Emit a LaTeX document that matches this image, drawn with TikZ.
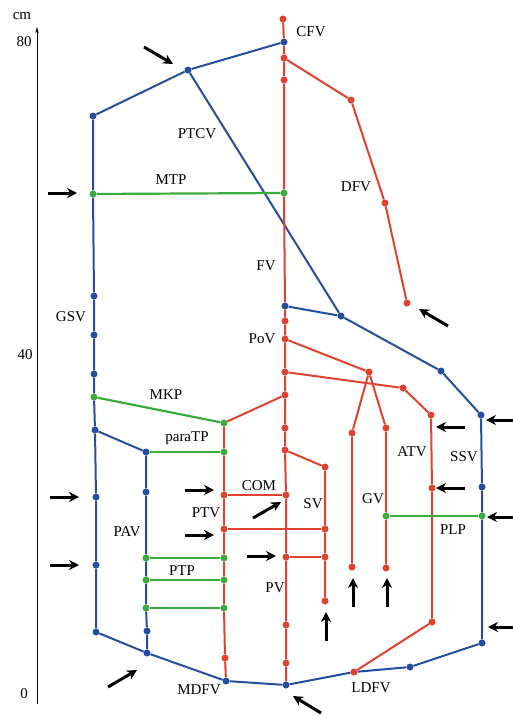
\documentclass[tikz,border=0pt]{standalone}
\usepackage{fontspec}
\setmainfont{Liberation Serif}
\usetikzlibrary{arrows.meta}
\definecolor{vblue}{RGB}{38,78,160}
\definecolor{vred}{RGB}{224,66,48}
\definecolor{vgreen}{RGB}{58,172,62}
\begin{document}
\begin{tikzpicture}[x=1pt,y=-1pt,
	bcirc/.style={circle,fill=vblue,inner sep=0pt,minimum size=7pt},
	rcirc/.style={circle,fill=vred,inner sep=0pt,minimum size=7pt},
	gcirc/.style={circle,fill=vgreen,inner sep=0pt,minimum size=7pt},
	bline/.style={draw=vblue,line width=2pt},
	rline/.style={draw=vred,line width=2pt},
	gline/.style={draw=vgreen,line width=2.2pt},
	lab/.style={inner sep=0pt,font=\fontsize{15}{17}\selectfont},
	arr/.style={-{Stealth[length=10pt,width=10pt]},line width=3pt}
	]
	\useasboundingbox (0,0) rectangle (513,718);
	% axis
	\coordinate (ax0) at (37,704);
	\coordinate (ax1) at (37,27);
	\draw[line width=0.8pt,-{Stealth[length=6pt,width=3.5pt]}] (ax0) -- (ax1);
	\node[lab] (cm) at (22,16) {cm};
	\node[lab] (t80) at (24,42) {80};
	\node[lab] (t40) at (25,355) {40};
	\node[lab] (t0) at (24,694) {0};
	%%%%%%%%%%%%%%% GSV
	\node[bcirc] (gsv0) at (93,116) {};
	\node[gcirc] (mtpL) at (93,194) {};
	\node[bcirc] (gsv2) at (94,296) {};
	\node[bcirc] (gsv3) at (94,335) {};
	\node[bcirc] (gsv4) at (94,374) {};
	\node[gcirc] (mkpL) at (94,397) {};
	\node[bcirc] (gsv5) at (95,430) {};
	\node[bcirc] (gsv6) at (96,497) {};
	\node[bcirc] (gsv7) at (96,565) {};
	\node[bcirc] (gsv8) at (96,632) {};
	\node[bcirc] (ptc) at (188,70) {};
	\node[bcirc] (cfv) at (284,42) {};
	%%%%%%%%%%%%%%% PAV
	\node[bcirc] (pav0) at (146,452) {};
	\node[bcirc] (pav1) at (146,492) {};
	\node[gcirc] (ptp1L) at (146,558) {};
	\node[gcirc] (ptp2L) at (146,580) {};
	\node[gcirc] (ptp3L) at (146,608) {};
	\node[bcirc] (pav2) at (147,631) {};
	\node[bcirc] (pav3) at (147,653) {};
	%%%%%%%%%%%%%%% FV
	\node[rcirc] (fv0) at (283,19) {};
	\node[rcirc] (fv1) at (284,58) {};
	\node[rcirc] (fv2) at (284,80) {};
	\node[gcirc] (mtpR) at (284,193) {};
	\node[bcirc] (fvb) at (285,306) {};
	\node[rcirc] (fv3) at (285,321) {};
	\node[rcirc] (pov) at (285,339) {};
	\node[rcirc] (fv4) at (285,372) {};
	\node[rcirc] (fv5) at (285,395) {};
	\node[rcirc] (fv6) at (285,428) {};
	\node[rcirc] (fv7) at (285,450) {};
	\node[rcirc] (comR) at (286,495) {};
	\node[rcirc] (fv8) at (286,557) {};
	\node[rcirc] (fv9) at (286,625) {};
	\node[rcirc] (fv10) at (286,663) {};
	\node[bcirc] (fvB) at (286,685) {};
	%%%%%%%%%%%%%%% DFV
	\node[rcirc] (dfv1) at (351,100) {};
	\node[rcirc] (dfv2) at (385,203) {};
	\node[rcirc] (dfv3) at (407,303) {};
	%%%%%%%%%%%%%%% PTV
	\node[gcirc] (mkpR) at (224,423) {};
	\node[gcirc] (ptR) at (224,452) {};
	\node[rcirc] (comL) at (224,495) {};
	\node[rcirc] (ptv1) at (224,529) {};
	\node[gcirc] (ptp1R) at (224,558) {};
	\node[gcirc] (ptp2R) at (224,580) {};
	\node[gcirc] (ptp3R) at (224,608) {};
	\node[rcirc] (ptv2) at (225,658) {};
	\node[bcirc] (mdfv) at (226,681) {};
	%%%%%%%%%%%%%%% SV
	\node[rcirc] (sv0) at (325,467) {};
	\node[rcirc] (sv1) at (325,529) {};
	\node[rcirc] (sv2) at (325,557) {};
	\node[rcirc] (sv3) at (325,601) {};
	%%%%%%%%%%%%%%% GV, ATV
	\node[rcirc] (gv0) at (369,372) {};
	\node[rcirc] (gvl0) at (352,433) {};
	\node[rcirc] (gvl1) at (352,567) {};
	\node[rcirc] (gvr0) at (386,428) {};
	\node[gcirc] (plpL) at (386,516) {};
	\node[rcirc] (gvr1) at (386,568) {};
	\node[rcirc] (atv0) at (403,388) {};
	\node[rcirc] (atv1) at (431,415) {};
	\node[rcirc] (atv2) at (432,488) {};
	\node[rcirc] (atv3) at (432,622) {};
	\node[rcirc] (ldfv) at (354,672) {};
	%%%%%%%%%%%%%%% SSV
	\node[bcirc] (ptcB) at (341,316) {};
	\node[bcirc] (ssv4) at (441,371) {};
	\node[bcirc] (ssv3) at (481,415) {};
	\node[bcirc] (ssv2) at (482,487) {};
	\node[gcirc] (plpR) at (482,516) {};
	\node[bcirc] (ssv0) at (482,643) {};
	\node[bcirc] (dv1) at (410,667) {};
	%%%%%%%%%%%%%%% blue veins
	\draw[bline] (gsv8)--(gsv7)--(gsv6)--(gsv5)--(mkpL)--(gsv4)--(gsv3)--(gsv2)--(mtpL)--(gsv0)--(ptc)--(cfv);
	\draw[bline] (ptc)--(ptcB);
	\draw[bline] (fvb)--(ptcB)--(ssv4)--(ssv3)--(ssv2)--(plpR)--(ssv0)--(dv1)--(ldfv)--(fvB)--(mdfv)--(pav3)--(gsv8);
	\draw[bline] (gsv5)--(pav0)--(pav1)--(ptp1L)--(ptp2L)--(ptp3L)--(pav2)--(pav3);
	%%%%%%%%%%%%%%% red veins
	\draw[rline] (fv0)--(cfv)--(fv1)--(fv2)--(mtpR)--(fvb)--(fv3)--(pov)--(fv4)--(fv5)--(fv6)--(fv7)--(comR)--(fv8)--(fv9)--(fv10)--(fvB);
	\draw[rline] (fv1)--(dfv1)--(dfv2)--(dfv3);
	\draw[rline] (fv5)--(mkpR)--(ptR)--(comL)--(ptv1)--(ptp1R)--(ptp2R)--(ptp3R)--(ptv2)--(mdfv);
	\draw[rline] (comL)--(comR);
	\draw[rline] (ptv1)--(sv1);
	\draw[rline] (fv8)--(sv2);
	\draw[rline] (fv7)--(sv0)--(sv1)--(sv2)--(sv3);
	\draw[rline] (pov)--(gv0);
	\draw[rline] (gv0)--(gvl0)--(gvl1);
	\draw[rline] (gv0)--(gvr0)--(plpL)--(gvr1);
	\draw[rline] (fv4)--(atv0)--(atv1)--(atv2)--(atv3)--(ldfv);
	%%%%%%%%%%%%%%% perforators
	\draw[gline] (mtpL)--(mtpR);
	\draw[gline] (mkpL)--(mkpR);
	\draw[gline] (pav0)--(ptR);
	\draw[gline] (ptp1L)--(ptp1R);
	\draw[gline] (ptp2L)--(ptp2R);
	\draw[gline] (ptp3L)--(ptp3R);
	\draw[gline] (plpL)--(plpR);
	%%%%%%%%%%%%%%% labels
	\node[lab] (tCFV) at (311,32) {CFV};
	\node[lab] (tPTCV) at (197,134) {PTCV};
	\node[lab] (tMTP) at (171,180) {MTP};
	\node[lab] (tDFV) at (356,187) {DFV};
	\node[lab] (tFV) at (266,266) {FV};
	\node[lab] (tGSV) at (71,317) {GSV};
	\node[lab] (tPoV) at (262,339) {PoV};
	\node[lab] (tMKP) at (166,395) {MKP};
	\node[lab] (tparaTP) at (187,438) {paraTP};
	\node[lab] (tATV) at (412,452) {ATV};
	\node[lab] (tSSV) at (464,457) {SSV};
	\node[lab] (tCOM) at (259,486) {COM};
	\node[lab] (tPTV) at (206,513) {PTV};
	\node[lab] (tSV) at (313,504) {SV};
	\node[lab] (tGV) at (373,499) {GV};
	\node[lab] (tPLP) at (453,530) {PLP};
	\node[lab] (tPAV) at (127,532) {PAV};
	\node[lab] (tPTP) at (182,571) {PTP};
	\node[lab] (tPV) at (275,588) {PV};
	\node[lab] (tMDFV) at (199,690) {MDFV};
	\node[lab] (tLDFV) at (371,688) {LDFV};
	%%%%%%%%%%%%%%% arrows
	\coordinate (a1t) at (144,47); \coordinate (a1h) at (173,64);
	\coordinate (a2t) at (48,193); \coordinate (a2h) at (77,193);
	\coordinate (a3t) at (50,497); \coordinate (a3h) at (79,497);
	\coordinate (a4t) at (50,565); \coordinate (a4h) at (79,565);
	\coordinate (a5t) at (108,687); \coordinate (a5h) at (137,670);
	\coordinate (a6t) at (185,490); \coordinate (a6h) at (214,490);
	\coordinate (a7t) at (185,535); \coordinate (a7h) at (214,535);
	\coordinate (a8t) at (253,518); \coordinate (a8h) at (281,502);
	\coordinate (a9t) at (247,556); \coordinate (a9h) at (276,556);
	\coordinate (a10t) at (326,641); \coordinate (a10h) at (326,612);
	\coordinate (a11t) at (353,607); \coordinate (a11h) at (353,578);
	\coordinate (a12t) at (387,607); \coordinate (a12h) at (387,578);
	\coordinate (a13t) at (321,713); \coordinate (a13h) at (293,696);
	\coordinate (a14t) at (465,427); \coordinate (a14h) at (436,427);
	\coordinate (a15t) at (465,488); \coordinate (a15h) at (436,488);
	\coordinate (a16t) at (516,420); \coordinate (a16h) at (486,420);
	\coordinate (a17t) at (516,517); \coordinate (a17h) at (487,517);
	\coordinate (a18t) at (516,627); \coordinate (a18h) at (488,627);
	\coordinate (a19t) at (448,326); \coordinate (a19h) at (419,309);
	\draw[arr] (a1t)--(a1h);
	\draw[arr] (a2t)--(a2h);
	\draw[arr] (a3t)--(a3h);
	\draw[arr] (a4t)--(a4h);
	\draw[arr] (a5t)--(a5h);
	\draw[arr] (a6t)--(a6h);
	\draw[arr] (a7t)--(a7h);
	\draw[arr] (a8t)--(a8h);
	\draw[arr] (a9t)--(a9h);
	\draw[arr] (a10t)--(a10h);
	\draw[arr] (a11t)--(a11h);
	\draw[arr] (a12t)--(a12h);
	\draw[arr] (a13t)--(a13h);
	\draw[arr] (a14t)--(a14h);
	\draw[arr] (a15t)--(a15h);
	\draw[arr] (a16t)--(a16h);
	\draw[arr] (a17t)--(a17h);
	\draw[arr] (a18t)--(a18h);
	\draw[arr] (a19t)--(a19h);
\end{tikzpicture}
\end{document}
